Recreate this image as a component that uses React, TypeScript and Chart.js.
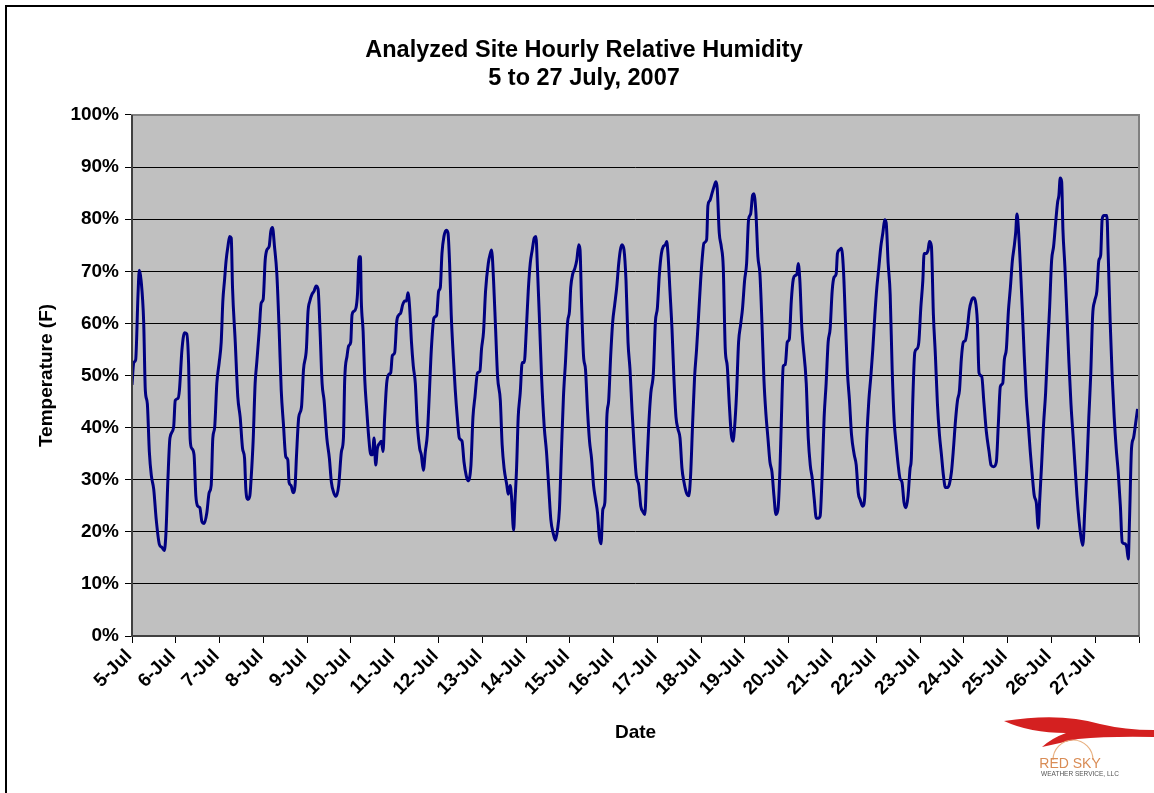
import React, { useEffect, useRef } from 'react';
import { Chart, registerables } from 'chart.js';

Chart.register(...registerables);

const titleLines = ['Analyzed Site Hourly Relative Humidity', '5 to 27 July, 2007'];
const yAxisTitle = 'Temperature (F)';
const xAxisTitle = 'Date';
const logoName = 'RED SKY';
const logoSub = 'WEATHER SERVICE, LLC';

const dayLabels = [
  '5-Jul', '6-Jul', '7-Jul', '8-Jul', '9-Jul', '10-Jul', '11-Jul', '12-Jul',
  '13-Jul', '14-Jul', '15-Jul', '16-Jul', '17-Jul', '18-Jul', '19-Jul', '20-Jul',
  '21-Jul', '22-Jul', '23-Jul', '24-Jul', '25-Jul', '26-Jul', '27-Jul',
];

// hours since 5-Jul 00:00
const hoursSinceStart = [
  0, 1, 2, 3.3, 4, 5, 6.4, 7.3, 8.4, 9.5, 10.6, 11.9, 13.3, 15, 16.4, 17.7, 18.6, 19.7, 20.8, 22.8,
  23.7, 25.2, 26, 27.4, 28.8, 30, 31, 31.9, 32.8, 34, 35, 36.1, 37.2, 38.3, 39.6, 41, 42.3, 43.4, 44.3, 45.3,
  46.5, 47.8, 48.9, 49.8, 50.7, 51.6, 52.6, 53.5, 54.4, 55.1, 56.6, 58, 59.3, 60.6, 61.7, 62.4, 63.5, 64.6, 65.3, 66.4,
  67.5, 68.4, 69.7, 70.8, 71.9, 73, 73.9, 75.2, 76.1, 77, 78.1, 79.4, 80.7, 81.8, 83, 84.3, 85.4, 86.1, 87.2, 88.3,
  89.4, 90.2, 91.4, 92.9, 94, 95.6, 96.5, 97.5, 98.7, 99.8, 100.9, 102, 103.1, 104.2, 105.3, 106.8, 108.2, 109.3, 110.6, 111.9,
  113.3, 114.8, 115.9, 116.6, 117.9, 118.8, 119.9, 120.6, 121.5, 122.8, 123.6, 124.5, 125.2, 125.7, 126.7, 127.6, 128.7, 129.8, 130.9, 131.8,
  132.7, 133.6, 134.5, 135.8, 136.7, 137.6, 138.5, 139.6, 140.7, 141.8, 142.7, 144, 145.1, 146.2, 147.3, 148.4, 149.5, 150.4, 151.3, 152.2,
  153.2, 154.2, 155.3, 156.4, 157.7, 158.6, 159.7, 160.8, 161.9, 163, 164.1, 165.5, 167, 168.1, 169, 169.9, 171, 172.3, 173.2, 174.1,
  175, 176.1, 177.2, 178.3, 179.4, 180.9, 182, 183.2, 184.1, 185.8, 186.9, 188, 189.4, 190.7, 191.6, 192.7, 193.8, 195.3, 196.4, 197.1,
  198.2, 199.3, 200.4, 201.9, 202.9, 204, 205.5, 206.2, 207.3, 208, 209.2, 209.9, 210.8, 211.7, 212.8, 213.9, 215, 216.1, 217.2, 218.3,
  219.4, 220.5, 221.4, 222.3, 223.4, 224.5, 226, 227.2, 228.5, 229.6, 230.9, 232.1, 233.2, 234.3, 235.4, 236.5, 237.6, 238.8, 239.8, 240.5,
  241.6, 242.7, 243.8, 244.9, 245.6, 246.4, 247.5, 248.6, 249.7, 250.8, 251.9, 253, 254.1, 255.2, 256.2, 257.1, 258.1, 259.2, 260.3, 261.3,
  262.4, 263.5, 264.6, 265.7, 266.8, 267.7, 268.6, 269.7, 270.8, 271.9, 273, 274.1, 275.2, 276.4, 277.8, 278.9, 280, 281.1, 282.2, 283.3,
  284.4, 285.8, 286.9, 288, 289.1, 290.2, 291.3, 292.4, 293.1, 293.8, 294.9, 296, 297.1, 298.2, 299.3, 300.4, 301.5, 302.6, 303.9, 305.2,
  306.2, 307.3, 308.4, 309.5, 310.6, 311.7, 312.8, 313.5, 315, 315.7, 316.8, 317.9, 319, 320.1, 320.8, 321.9, 323, 324.1, 325.2, 326.3,
  327.4, 328.5, 329.4, 330.3, 331.4, 332.5, 333.6, 334.7, 335.8, 336.9, 338, 339.1, 340.2, 340.9, 342, 343.1, 344.2, 345.3, 346.4, 347.5,
  348.6, 349.7, 350.8, 351.9, 353, 354.1, 355.2, 355.9, 357, 358.1, 359.2, 360.3, 361.4, 362.5, 363.6, 364.5, 365.2, 366.1, 367.2, 369.6,
  370.7, 371.8, 372.9, 374, 375.1, 376.2, 377.2, 378.3, 379.4, 380.5, 381.6, 382.7, 383.8, 384.9, 386, 386.7, 387.8, 388.9, 390, 391.1,
  392.2, 393.3, 394.4, 395.9, 397, 398.1, 399.1, 400.6, 401.7, 402.8, 403.9, 405, 406.1, 407.2, 408.3, 409.4, 410.5, 411.6, 412.6, 413.4,
  414.5, 415.6, 416.7, 417.8, 418.9, 420, 421, 422.1, 423.2, 424.3, 425.4, 426.5, 427.2, 428, 429.1, 430.2, 431.3, 432.4, 433.5, 434.2,
  435.3, 436.4, 437.1, 438.2, 439.3, 440.4, 441.5, 442.6, 443.7, 444.8, 445.9, 447, 448.1, 449.2, 450.3, 451.4, 452.5, 453.6, 454.6, 455.7,
  456.8, 457.9, 459, 460.1, 461.2, 462.3, 463.4, 464.3, 465.8, 466.9, 468.3, 469.8, 470.9, 472.3, 473.8, 474.9, 476, 477.3, 478.2, 479.3,
  480.4, 481.5, 482.6, 483.6, 484.4, 485.1, 485.8, 486.9, 488, 489.1, 490.2, 491.3, 492.4, 493.5, 494.6, 495.7, 496.8, 497.5, 498.6, 499.7,
  500.8, 501.9, 503, 504.1, 505.2, 506.3, 507.4, 508.1, 508.8, 509.6, 510.3, 511.4, 512.5, 513.6, 514.7, 515.8, 516.9, 518, 519.1, 520.2,
  521.2, 522.3, 523.4, 524.5, 525.5, 526.6, 527.7, 528.9, 530, 531, 531.8, 532.8, 534.4, 535.1, 536.2, 537.3, 538.4, 539.5, 540.6, 541.8,
  542.8, 544.3, 545.3, 546.1, 546.8, 547.9, 549, 550.1, 551.2,
];

const humidityPct = [
  48.2, 52.5, 53, 65.6, 70.2, 68.2, 60.3, 47.2, 44.6, 35.4, 30.8, 28.2, 22.3, 17.6, 17, 16.4, 19.7, 30.2, 38, 40,
  45.2, 45.6, 47.2, 55, 58.2, 58, 52.5, 37.7, 36, 34.8, 26.9, 24.9, 24.6, 22, 21.6, 23.6, 27.5, 28.9, 38, 40,
  48.5, 52.5, 56.4, 64.3, 68.2, 72.1, 74.8, 76.7, 76.4, 66.9, 56.4, 45.9, 42, 36, 34.1, 28.2, 26.2, 26.9, 30.2, 37.4,
  48.5, 52.5, 58.4, 63.9, 64.6, 72.1, 74.1, 74.8, 77.7, 78.4, 74.8, 69.5, 58.4, 47.2, 40.7, 34.4, 33.8, 29.5, 28.9, 27.5,
  28.9, 34.8, 42, 43.9, 51.1, 55.1, 62.3, 64.3, 65.6, 66.2, 67.2, 66.6, 58.4, 48.5, 45.2, 38, 34.1, 29.5, 27.5, 26.8,
  28.9, 35.4, 38, 49.2, 53.8, 55.7, 56.4, 61.6, 62.3, 63, 65.6, 72.8, 72.8, 64.3, 58.4, 49.2, 43.3, 38, 34.8, 34.8,
  38, 32.8, 36, 37, 37.4, 35.4, 42, 48.5, 50.2, 50.5, 53.8, 54.4, 60.3, 61.6, 62, 63.6, 64.3, 64.3, 65.9, 63,
  56.4, 51.8, 48.5, 40.7, 36, 34.8, 31.8, 35.4, 38.7, 46.6, 55.1, 61, 61.6, 66.2, 66.9, 73.4, 76.7, 77.9, 77.4, 71.5,
  61.6, 53.8, 47.2, 42, 38, 37.4, 33.4, 30.8, 29.8, 32.8, 42, 45.9, 50.5, 50.8, 55.1, 58.4, 66.2, 71.5, 73.4, 74.1,
  68.2, 59, 49.8, 45.2, 36.7, 32.1, 28.9, 27.2, 28.9, 26.9, 20.3, 25.6, 32.1, 42, 46.6, 52.5, 52.5, 58.4, 66.2, 71.5,
  74.1, 76.4, 76.7, 70.2, 60.3, 49.8, 40, 35.4, 28.2, 22.3, 19.7, 18.4, 20.3, 24.3, 35.4, 45.9, 52.5, 60.3, 62.3, 66.9,
  69.5, 70.5, 72.1, 75.1, 74.1, 64.3, 53.8, 51.1, 43.3, 37.4, 34.1, 28.9, 26.2, 23.6, 19, 17.7, 24.3, 25.6, 42, 45.2,
  53.8, 60.3, 63.6, 66.9, 71.5, 74.1, 75.1, 74.1, 68.2, 56.4, 51.1, 43.3, 36.7, 30.8, 28.9, 24.9, 23.9, 23.3, 32.1, 40.7,
  46.6, 50.5, 60.3, 63, 69.5, 73.4, 74.8, 75.1, 75.7, 73.4, 66.2, 59, 49.2, 42, 39.7, 38, 32.1, 29.5, 27.5, 26.9,
  30.8, 40.7, 49.8, 55.1, 61.6, 68.2, 73.4, 75.4, 76.1, 82.6, 83.6, 84.9, 86.2, 87.2, 85.9, 77.4, 74.8, 70.8, 55.1, 51.8,
  44.6, 38.7, 37.4, 40, 46.6, 56.4, 59.7, 63, 68.2, 71.5, 80, 81, 84.6, 84.9, 81.3, 72.8, 69.5, 60.3, 49.2, 42.6,
  38, 33.4, 31.5, 26.9, 23.3, 24.3, 32.1, 40.7, 51.8, 52.1, 56.4, 57, 64.3, 68.5, 69.2, 69.5, 71.5, 68.2, 59, 48.5,
  38, 32.8, 30.2, 26.2, 22.6, 22.6, 23, 30.8, 42, 48.5, 56.4, 59, 66.2, 68.9, 69.5, 73.4, 74.1, 74.4, 70.2, 60.3,
  50.5, 45.2, 38.7, 34.8, 32.8, 27.5, 26.2, 24.9, 26.9, 38, 45.2, 49.8, 55.1, 61.6, 66.9, 70.8, 74.8, 77.4, 79.9, 79.3,
  71.5, 65.6, 51.1, 41.3, 36.7, 32.8, 30.2, 29.5, 25.6, 24.6, 26.9, 32.1, 34.1, 45.2, 54.4, 55.1, 56.4, 63, 68.2, 73.4,
  73.4, 74.1, 75.7, 74.8, 61.6, 53.8, 44.6, 38.7, 34.8, 30.8, 28.5, 28.5, 29.2, 31.5, 36, 41.3, 45.2, 47.2, 53.1, 56.4,
  56.7, 59, 62.6, 64.3, 64.9, 64.3, 60.3, 50.5, 49.8, 45.2, 39.3, 35.4, 32.8, 32.5, 33.4, 40.7, 47.9, 48.5, 53.1, 55.1,
  62.3, 66.9, 72.1, 74.8, 77.4, 81, 78.7, 71.5, 63, 53.8, 45.9, 40.7, 35.4, 30.8, 26.9, 25.6, 20.7, 25.6, 32.8, 40.7,
  46.6, 55.1, 63, 72.1, 74.8, 79.3, 83.3, 84.6, 87.9, 87.2, 78, 70.8, 61.6, 52.5, 44.6, 38.7, 32.8, 26.9, 22.3, 19,
  17.4, 24.3, 32.1, 42, 49.8, 61.6, 64.3, 66.2, 72.1, 73.1, 80, 80.7, 80.7, 73.4, 60.3, 49.8, 42, 36, 31.5, 24.9,
  18, 17.7, 17, 14.8, 22.3, 36, 38, 40.7, 43.6,
];

const HOURS_PER_DAY = 24;
const FONT = "'Liberation Sans', Arial, Helvetica, sans-serif";

const decorPlugin = {
  id: 'decor',
  beforeDraw(chart: any) {
    const { ctx, chartArea: a } = chart;
    ctx.save();
    ctx.fillStyle = '#ffffff';
    ctx.fillRect(0, 0, chart.width, chart.height);
    ctx.fillStyle = '#C0C0C0';
    ctx.fillRect(a.left, a.top, a.right - a.left, a.bottom - a.top);
    ctx.restore();
  },
  afterDraw(chart: any) {
    const { ctx, chartArea: a } = chart;
    ctx.save();
    // outer frame
    ctx.strokeStyle = '#000000';
    ctx.lineWidth = 2;
    ctx.strokeRect(6, 6, chart.width + 40, chart.height + 40);
    // plot border
    ctx.strokeStyle = '#808080';
    ctx.lineWidth = 2;
    ctx.strokeRect(a.left, a.top, a.right - a.left, a.bottom - a.top);
    ctx.strokeStyle = '#404040';
    ctx.beginPath();
    ctx.moveTo(a.left, a.top);
    ctx.lineTo(a.left, a.bottom);
    ctx.lineTo(a.right, a.bottom);
    ctx.stroke();

    // logo
    ctx.fillStyle = '#d42020';
    ctx.beginPath();
    ctx.moveTo(1004, 721);
    ctx.quadraticCurveTo(1060, 712, 1100, 724);
    ctx.quadraticCurveTo(1125, 730, 1154, 730);
    ctx.lineTo(1154, 737);
    ctx.quadraticCurveTo(1110, 736, 1078, 739);
    ctx.lineTo(1042, 747);
    ctx.quadraticCurveTo(1052, 738, 1066, 733);
    ctx.quadraticCurveTo(1030, 733, 1004, 721);
    ctx.closePath();
    ctx.fill();

    ctx.strokeStyle = '#e8b080';
    ctx.lineWidth = 1.2;
    ctx.beginPath();
    ctx.arc(1073, 760, 20, Math.PI, 2 * Math.PI);
    ctx.stroke();

    ctx.fillStyle = '#d98c55';
    ctx.textAlign = 'center';
    ctx.textBaseline = 'alphabetic';
    ctx.font = `14px ${FONT}`;
    ctx.fillText(logoName, 1070, 768);
    ctx.fillStyle = '#555555';
    ctx.font = `6.5px ${FONT}`;
    ctx.fillText(logoSub, 1080, 776);
    ctx.restore();
  },
};

export default function App() {
  const canvasRef = useRef<HTMLCanvasElement | null>(null);

  useEffect(() => {
    document.body.style.margin = '0';
    const canvas = canvasRef.current;
    if (!canvas) return;
    const points = hoursSinceStart.map((h, i) => ({ x: h, y: humidityPct[i] }));
    const chart = new Chart(canvas, {
      type: 'line',
      data: {
        datasets: [
          {
            label: 'Relative Humidity',
            data: points,
            borderColor: '#000080',
            backgroundColor: '#000080',
            borderWidth: 3,
            pointRadius: 0,
            cubicInterpolationMode: 'monotone',
            fill: false,
          },
        ],
      },
      options: {
        responsive: false,
        animation: false,
        devicePixelRatio: 1,
        layout: { padding: { left: 29, right: 15, top: 0, bottom: 0 } },
        plugins: {
          legend: { display: false },
          tooltip: { enabled: false },
          title: {
            display: true,
            text: titleLines,
            color: '#000000',
            font: { family: FONT, size: 23.5, weight: 'bold', lineHeight: 1.17 },
            padding: { top: 37.25, bottom: 22.75 },
          },
        },
        scales: {
          x: {
            type: 'linear',
            min: 0,
            max: dayLabels.length * HOURS_PER_DAY,
            afterFit: (scale: any) => {
              scale.height = 157;
              scale.paddingRight = 0;
            },
            afterBuildTicks: (scale: any) => {
              const t = [];
              for (let i = 0; i <= dayLabels.length; i++) t.push({ value: i * HOURS_PER_DAY });
              scale.ticks = t;
            },
            ticks: {
              autoSkip: false,
              maxRotation: 45,
              minRotation: 45,
              padding: 2,
              labelOffset: -3,
              color: '#000000',
              font: { family: FONT, size: 19, weight: 'bold' },
              callback: (v: any) => {
                const idx = Math.round(Number(v) / HOURS_PER_DAY);
                return dayLabels[idx] ?? '';
              },
            },
            grid: {
              display: true,
              drawOnChartArea: false,
              drawTicks: true,
              tickLength: 7,
              tickColor: '#000000',
              tickWidth: 1,
            },
            border: { display: false },
            title: {
              display: true,
              text: xAxisTitle,
              color: '#000000',
              font: { family: FONT, size: 19, weight: 'bold', lineHeight: 1.2 },
              padding: { top: 0, bottom: 48.6 },
            },
          },
          y: {
            min: 0,
            max: 100,
            afterFit: (scale: any) => {
              scale.width = 103;
            },
            ticks: {
              stepSize: 10,
              padding: 6,
              color: '#000000',
              font: { family: FONT, size: 19, weight: 'bold' },
              callback: (v: any) => `${v}%`,
            },
            grid: {
              drawTicks: true,
              tickLength: 7,
              tickColor: '#000000',
              color: (ctx: any) =>
                ctx.tick && (ctx.tick.value === 0 || ctx.tick.value === 100) ? 'rgba(0,0,0,0)' : '#000000',
              lineWidth: 1,
            },
            border: { display: false },
            title: {
              display: true,
              text: yAxisTitle,
              color: '#000000',
              font: { family: FONT, size: 19, weight: 'bold', lineHeight: 1.2 },
              padding: { top: 6.6, bottom: 0 },
            },
          },
        },
      },
      plugins: [decorPlugin],
    });
    return () => chart.destroy();
  }, []);

  return (
    <div style={{ position: 'relative', width: 1154, height: 793, overflow: 'hidden', background: '#fff' }}>
      <canvas ref={canvasRef} width={1154} height={793} style={{ display: 'block' }} />
    </div>
  );
}
